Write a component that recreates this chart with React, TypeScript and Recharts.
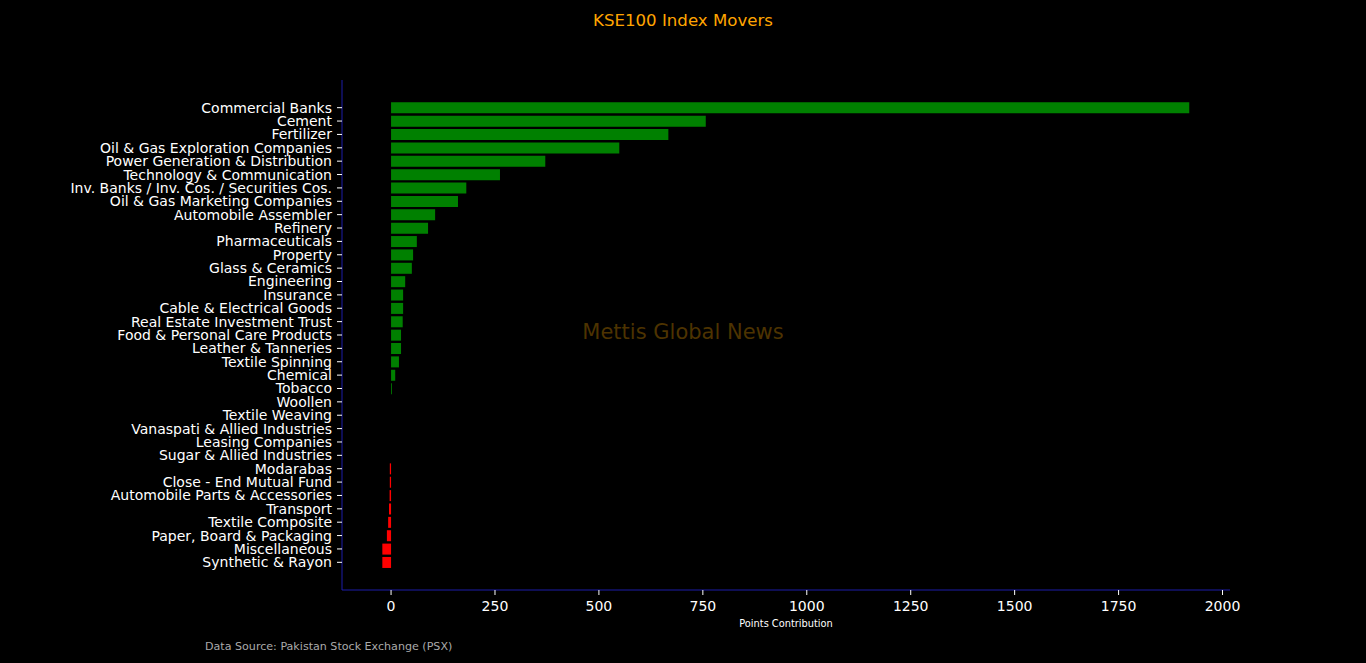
import React from "react";
import { BarChart, Bar, XAxis, YAxis, Cell } from "recharts";

const sectors = [
  "Commercial Banks",
  "Cement",
  "Fertilizer",
  "Oil & Gas Exploration Companies",
  "Power Generation & Distribution",
  "Technology & Communication",
  "Inv. Banks / Inv. Cos. / Securities Cos.",
  "Oil & Gas Marketing Companies",
  "Automobile Assembler",
  "Refinery",
  "Pharmaceuticals",
  "Property",
  "Glass & Ceramics",
  "Engineering",
  "Insurance",
  "Cable & Electrical Goods",
  "Real Estate Investment Trust",
  "Food & Personal Care Products",
  "Leather & Tanneries",
  "Textile Spinning",
  "Chemical",
  "Tobacco",
  "Woollen",
  "Textile Weaving",
  "Vanaspati & Allied Industries",
  "Leasing Companies",
  "Sugar & Allied Industries",
  "Modarabas",
  "Close - End Mutual Fund",
  "Automobile Parts & Accessories",
  "Transport",
  "Textile Composite",
  "Paper, Board & Packaging",
  "Miscellaneous",
  "Synthetic & Rayon",
];

const points = [
  1920, 757, 667, 549, 371, 262, 181, 161, 106, 89, 62, 53, 50, 34, 29, 29, 28,
  24, 24, 19, 10, 2, 0, 0, 0, 0, 0, -3, -3, -3.5, -5, -7, -10, -21, -21,
];

const xTicks = [0, 250, 500, 750, 1000, 1250, 1500, 1750, 2000];

const data = sectors.map((name, i) => ({ name, value: points[i] }));

const FONT = "'DejaVu Sans', sans-serif";

export default function App() {
  return (
    <div
      style={{
        position: "fixed",
        left: 0,
        top: 0,
        width: 1366,
        height: 663,
        background: "#000",
        fontFamily: FONT,
        overflow: "hidden",
      }}
    >
      <BarChart
        width={1366}
        height={663}
        data={data}
        layout="vertical"
        margin={{ top: 80, right: 136, bottom: 43, left: 0 }}
        barCategoryGap="10%"
      >
        <XAxis
          type="number"
          domain={[-118, 2018]}
          ticks={xTicks}
          allowDataOverflow
          axisLine={{ stroke: "#1c1ca8", strokeWidth: 1 }}
          tickLine={{ stroke: "#ffffff" }}
          tickSize={5}
          tickMargin={6}
          tick={{ fill: "#ffffff", fontSize: 14, fontFamily: FONT }}
          height={30}
        />
        <YAxis
          type="category"
          dataKey="name"
          width={342}
          interval={0}
          padding={{ top: 21, bottom: 21 }}
          axisLine={{ stroke: "#1c1ca8", strokeWidth: 1 }}
          tickLine={{ stroke: "#ffffff" }}
          tickSize={5}
          tickMargin={5}
          tick={{ fill: "#ffffff", fontSize: 14, fontFamily: FONT }}
        />
        <Bar dataKey="value" isAnimationActive={false}>
          {data.map((d, i) => (
            <Cell key={i} fill={d.value < 0 ? "#ff0000" : "#008000"} />
          ))}
        </Bar>
      </BarChart>
      <div
        style={{
          position: "absolute",
          left: 0,
          width: 1366,
          top: 11,
          textAlign: "center",
          color: "#ffa500",
          fontSize: 16.6,
        }}
      >
        KSE100 Index Movers
      </div>
      <div
        style={{
          position: "absolute",
          left: 0,
          width: 1366,
          top: 320,
          textAlign: "center",
          color: "#4d3300",
          fontSize: 21,
        }}
      >
        Mettis Global News
      </div>
      <div
        style={{
          position: "absolute",
          left: 686,
          width: 200,
          top: 618,
          textAlign: "center",
          color: "#ffffff",
          fontSize: 9.8,
        }}
      >
        Points Contribution
      </div>
      <div
        style={{
          position: "absolute",
          left: 205,
          top: 640,
          color: "#aaaaaa",
          fontSize: 11.1,
        }}
      >
        Data Source: Pakistan Stock Exchange (PSX)
      </div>
    </div>
  );
}
